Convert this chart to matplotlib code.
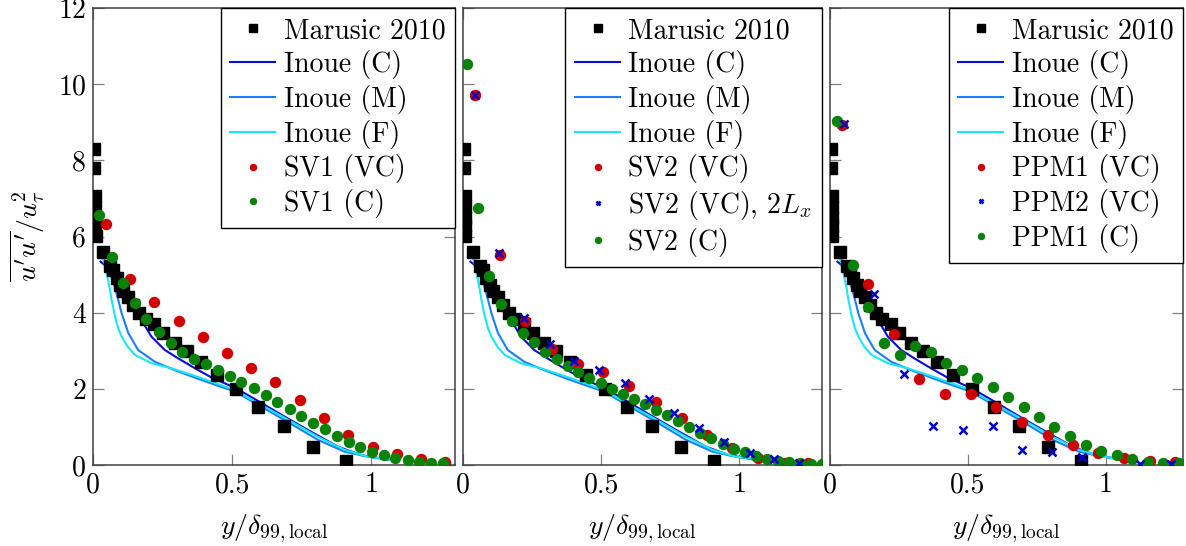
import matplotlib
matplotlib.use("Agg")
import matplotlib.pyplot as plt
import numpy as np

plt.rcParams['font.family'] = ['cmr10', 'DejaVu Serif']
plt.rcParams['mathtext.fontset'] = 'cm'
plt.rcParams['axes.unicode_minus'] = False
plt.rcParams['axes.formatter.use_mathtext'] = True

# ---------------- data ----------------
marusic_x = [0.003, 0.004, 0.006, 0.007, 0.007, 0.008, 0.009, 0.037, 0.061, 0.073, 0.085, 0.097,
             0.109, 0.127, 0.145, 0.165, 0.19, 0.22, 0.252, 0.294, 0.336, 0.387, 0.447, 0.515,
             0.593, 0.685, 0.789, 0.909]
marusic_y = [8.3, 7.8, 7.07, 6.78, 6.48, 6.28, 6.01, 5.58, 5.23, 5.12, 4.90, 4.73,
             4.58, 4.42, 4.2, 4.0, 3.83, 3.69, 3.47, 3.21, 2.99, 2.70, 2.36, 1.99,
             1.53, 1.02, 0.47, 0.11]

inoue_c_x = [0.027, 0.05, 0.07, 0.091, 0.12, 0.15, 0.186, 0.21, 0.258, 0.306, 0.366, 0.425,
             0.515, 0.593, 0.688, 0.784, 0.88, 0.963, 1.047, 1.09]
inoue_c_y = [5.34, 5.2, 5.08, 4.92, 4.55, 4.15, 3.66, 3.37, 3.02, 2.80, 2.54, 2.30,
             2.01, 1.68, 1.27, 0.87, 0.48, 0.26, 0.15, 0.13]

inoue_m_x = [0.035, 0.05, 0.065, 0.079, 0.091, 0.103, 0.127, 0.162, 0.222, 0.294, 0.39,
             0.509, 0.593, 0.688, 0.808, 0.903, 0.987, 1.07]
inoue_m_y = [5.45, 5.3, 4.98, 4.65, 4.33, 3.98, 3.46, 3.02, 2.71, 2.49, 2.23,
             1.93, 1.58, 1.18, 0.66, 0.35, 0.22, 0.15]

inoue_f_x = [0.03, 0.04, 0.05, 0.061, 0.067, 0.079, 0.09, 0.103, 0.125, 0.151, 0.21, 0.282,
             0.39, 0.509, 0.593, 0.688, 0.808, 0.903, 0.987, 1.07]
inoue_f_y = [5.5, 5.35, 5.0, 4.6, 4.33, 3.9, 3.6, 3.37, 3.1, 2.89, 2.67, 2.54,
             2.28, 1.97, 1.62, 1.24, 0.74, 0.40, 0.22, 0.14]

# panel 1
sv1_vc_x = [0.045, 0.133, 0.22, 0.308, 0.394, 0.481, 0.569, 0.655, 0.743, 0.829, 0.915,
            1.006, 1.091, 1.178, 1.264]
sv1_vc_y = [6.32, 4.88, 4.29, 3.79, 3.35, 2.95, 2.56, 2.17, 1.71, 1.23, 0.80,
            0.48, 0.28, 0.17, 0.07]
sv1_c_x = [0.023, 0.067, 0.109, 0.151, 0.192, 0.237, 0.28, 0.321, 0.363, 0.407, 0.449, 0.491,
           0.533, 0.577, 0.62, 0.662, 0.706, 0.748, 0.79, 0.832, 0.876, 0.918, 0.959, 1.001,
           1.044, 1.086, 1.13, 1.172, 1.214, 1.256]
sv1_c_y = [6.57, 5.45, 4.79, 4.25, 3.83, 3.48, 3.21, 2.98, 2.79, 2.64, 2.49, 2.34,
           2.19, 2.01, 1.83, 1.65, 1.47, 1.29, 1.11, 0.94, 0.76, 0.60, 0.46, 0.35,
           0.25, 0.18, 0.12, 0.08, 0.05, 0.04]

# panel 2
sv2_vc_x = [0.042, 0.134, 0.224, 0.323, 0.418, 0.508, 0.601, 0.698, 0.792, 0.882, 0.975,
            1.069, 1.166, 1.25]
sv2_vc_y = [9.72, 5.51, 3.79, 3.05, 2.65, 2.45, 2.07, 1.66, 1.23, 0.79, 0.45,
            0.18, 0.06, 0.04]
sv2_lx_x = [0.042, 0.13, 0.221, 0.315, 0.403, 0.492, 0.587, 0.674, 0.764, 0.856, 0.946,
            1.039, 1.127, 1.216]
sv2_lx_y = [9.72, 5.56, 3.85, 3.17, 2.74, 2.49, 2.15, 1.73, 1.36, 0.96, 0.61,
            0.32, 0.15, 0.05]
sv2_c_x = [0.016, 0.055, 0.095, 0.138, 0.176, 0.216, 0.257, 0.297, 0.339, 0.379, 0.418,
           0.458, 0.499, 0.538, 0.578, 0.619, 0.659, 0.699, 0.74, 0.779, 0.819, 0.86,
           0.898, 0.94, 0.981, 1.021, 1.061, 1.102, 1.139, 1.181, 1.22, 1.26, 1.301]
sv2_c_y = [10.52, 6.74, 4.97, 4.24, 3.77, 3.46, 3.22, 2.98, 2.78, 2.60, 2.45,
           2.29, 2.15, 1.99, 1.86, 1.73, 1.59, 1.44, 1.30, 1.16, 1.0, 0.85,
           0.70, 0.55, 0.43, 0.33, 0.24, 0.17, 0.11, 0.09, 0.05, 0.03, 0.03]

# panel 3
ppm1_vc_x = [0.045, 0.139, 0.232, 0.324, 0.417, 0.51, 0.602, 0.697, 0.789, 0.882, 0.973,
             1.067, 1.16, 1.251]
ppm1_vc_y = [8.93, 4.74, 3.43, 2.25, 1.86, 1.86, 1.52, 1.12, 0.80, 0.52, 0.32,
             0.18, 0.11, 0.09]
ppm2_vc_x = [0.052, 0.161, 0.268, 0.375, 0.481, 0.59, 0.697, 0.804, 0.913, 1.124, 1.236]
ppm2_vc_y = [8.95, 4.49, 2.39, 1.03, 0.92, 1.03, 0.39, 0.33, 0.20, 0.03, 0.03]
ppm1_c_x = [0.027, 0.085, 0.139, 0.196, 0.254, 0.308, 0.365, 0.42, 0.477, 0.534, 0.59,
            0.645, 0.702, 0.759, 0.813, 0.870, 0.927, 0.983, 1.04, 1.096, 1.152, 1.208, 1.265]
ppm1_c_y = [9.04, 5.26, 4.14, 3.20, 2.89, 3.12, 2.96, 2.69, 2.49, 2.29, 2.06,
            1.79, 1.52, 1.26, 1.0, 0.75, 0.53, 0.38, 0.25, 0.15, 0.09, 0.05, 0.04]

x_ticks = [0, 0.5, 1]
x_tick_labels = ["0", "0.5", "1"]
y_ticks = [0, 2, 4, 6, 8, 10, 12]
y_tick_labels = ["0", "2", "4", "6", "8", "10", "12"]

# ---------------- styles ----------------
C_RED = '#d00000'
C_GREEN = '#0a820a'
C_XBLUE = '#0000cc'
C_INC = '#0a0ae0'
C_INM = '#1a7fff'
C_INF = '#1ae6f5'

FS = 20

fig = plt.figure(figsize=(11.86, 5.46), dpi=100)
W, H = 1186.0, 546.0
panels = [(93, 455, 1.3), (463, 822, 1.3), (830, 1183, 1.28)]
axes = []
for (l, r, xm) in panels:
    ax = fig.add_axes([l / W, (H - 465) / H, (r - l) / W, (465 - 8) / H])
    ax.set_xlim(0, xm)
    ax.set_ylim(0, 12)
    axes.append(ax)


def common(ax, first):
    ax.plot(marusic_x, marusic_y, ls='none', marker='s', ms=8.5, color='black',
            label='Marusic 2010', zorder=3)
    ax.plot(inoue_c_x, inoue_c_y, color=C_INC, lw=1.5, label='Inoue (C)', zorder=2)
    ax.plot(inoue_m_x, inoue_m_y, color=C_INM, lw=1.5, label='Inoue (M)', zorder=2)
    ax.plot(inoue_f_x, inoue_f_y, color=C_INF, lw=1.5, label='Inoue (F)', zorder=2)


def style(ax, first):
    ax.set_xticks(x_ticks)
    ax.set_xticklabels(x_tick_labels, fontsize=FS)
    ax.set_yticks(y_ticks)
    if first:
        ax.set_yticklabels(y_tick_labels, fontsize=FS)
    else:
        ax.set_yticklabels([])
    ax.tick_params(direction='in', length=8, width=0.9, color='#808080',
                   top=True, right=True, pad=5)
    for s in ax.spines.values():
        s.set_color('#404040')
        s.set_linewidth(1.1)
    ax.set_xlabel(r'$y/\delta_{99,\mathrm{local}}$', fontsize=FS, labelpad=10)
    leg = ax.legend(loc='upper right', borderaxespad=0, fontsize=FS, fancybox=False,
                    edgecolor='black', framealpha=1, handlelength=1.62, handletextpad=0.3,
                    labelspacing=0.21, borderpad=0.35, markerscale=0.6)
    leg.get_frame().set_linewidth(1.0)


# panel 1
ax = axes[0]
common(ax, True)
ax.plot(sv1_vc_x, sv1_vc_y, ls='none', marker='o', ms=7.2, color=C_RED, label='SV1 (VC)', zorder=4)
ax.plot(sv1_c_x, sv1_c_y, ls='none', marker='o', ms=7.2, color=C_GREEN, label='SV1 (C)', zorder=5)
style(ax, True)
ax.set_ylabel(r"$\overline{u^\prime u^\prime}/u_\tau^2$", fontsize=FS, labelpad=8)

# panel 2
ax = axes[1]
common(ax, False)
ax.plot(sv2_vc_x, sv2_vc_y, ls='none', marker='o', ms=7.2, color=C_RED, label='SV2 (VC)', zorder=4)
ax.plot(sv2_lx_x, sv2_lx_y, ls='none', marker='x', ms=5.5, mew=1.8, color=C_XBLUE,
        label=r'SV2 (VC), $2L_x$', zorder=5)
ax.plot(sv2_c_x, sv2_c_y, ls='none', marker='o', ms=7.2, color=C_GREEN, label='SV2 (C)', zorder=4)
style(ax, False)

# panel 3
ax = axes[2]
common(ax, False)
ax.plot(ppm1_vc_x, ppm1_vc_y, ls='none', marker='o', ms=7.2, color=C_RED, label='PPM1 (VC)', zorder=4)
ax.plot(ppm2_vc_x, ppm2_vc_y, ls='none', marker='x', ms=5.5, mew=1.8, color=C_XBLUE,
        label='PPM2 (VC)', zorder=5)
ax.plot(ppm1_c_x, ppm1_c_y, ls='none', marker='o', ms=7.2, color=C_GREEN, label='PPM1 (C)', zorder=4)
style(ax, False)

fig.savefig('out.png', dpi=100)
